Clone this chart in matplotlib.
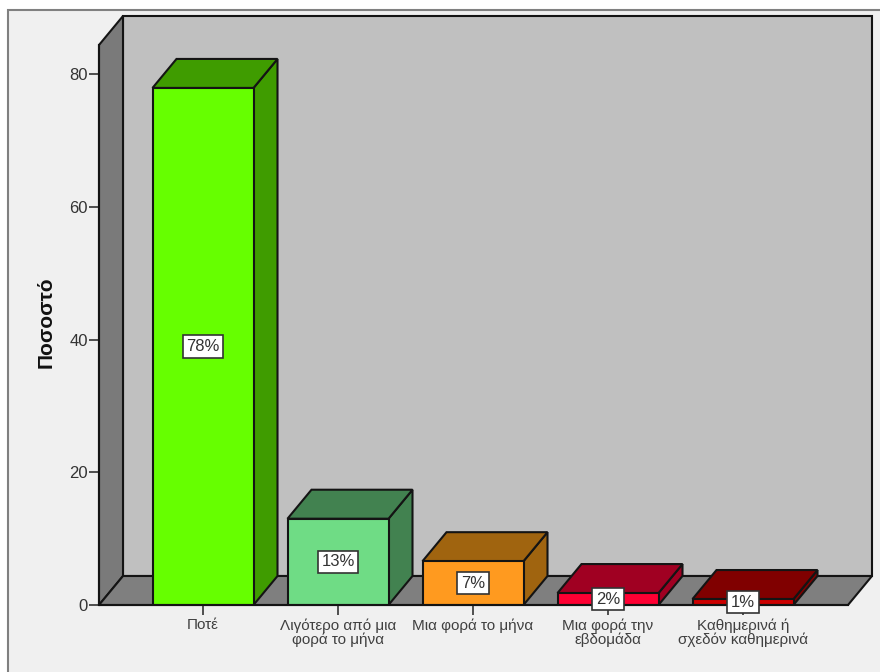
import matplotlib
matplotlib.use("Agg")
import matplotlib.pyplot as plt
from matplotlib.patches import Polygon, Rectangle

plt.rcParams['font.family'] = ['Liberation Sans', 'DejaVu Sans']

categories = ['Ποτέ', 'Λιγότερο από μια\nφορά το μήνα', 'Μια φορά το μήνα',
              'Μια φορά την\nεβδομάδα', 'Καθημερινά ή\nσχεδόν καθημερινά']
percent = [77.9, 13.0, 6.6, 1.8, 0.9]
yticks = [0, 20, 40, 60, 80]
front_colors = ['#66ff00', '#6fdc85', '#ff9a1f', '#ff0033', '#cc0000']
side_colors = ['#3f9c00', '#428250', '#a0640f', '#a00022', '#800000']

W, H = 880, 672
EDGE = '#141414'

fig = plt.figure(figsize=(W / 100, H / 100), dpi=100, facecolor='white')
# panel behind the chart, its frame runs off the picture on the right and bottom
fig.patches.append(Rectangle((8 / W, -0.01), 1, (H - 10) / H + 0.01, transform=fig.transFigure,
                             facecolor='#f0f0f0', edgecolor='#808080', linewidth=1.5, zorder=-1))

ax = fig.add_axes([99 / W, (H - 605) / H, 749 / W, 560 / H])
ax.set_xlim((99 - 203) / 135, (848 - 203) / 135)
ax.set_ylim(0, 560 / 6.6375)
ax.patch.set_visible(False)

# depth of the 3d box
dx = 24 / 135
dy = 29 / 6.6375
x0, x1 = ax.get_xlim()
y0, y1 = ax.get_ylim()


def poly(pts, color, z):
    ax.add_patch(Polygon(pts, closed=True, facecolor=color, edgecolor=EDGE,
                         linewidth=1.5, zorder=z, clip_on=False))


# back wall, left wall, floor
poly([(x0 + dx, y0 + dy), (x1 + dx, y0 + dy), (x1 + dx, y1 + dy), (x0 + dx, y1 + dy)], '#c0c0c0', 1)
poly([(x0, y0), (x0 + dx, y0 + dy), (x0 + dx, y1 + dy), (x0, y1)], '#7a7a7a', 1.1)
poly([(x0, y0), (x1, y0), (x1 + dx, y0 + dy), (x0 + dx, y0 + dy)], '#7f7f7f', 1.1)

width = 101 / 135
for i, v in enumerate(percent):
    l, r = i - width / 2, i + width / 2
    poly([(r, 0), (r + dx, dy), (r + dx, v + dy), (r, v)], side_colors[i], 2)
    poly([(l, v), (r, v), (r + dx, v + dy), (l + dx, v + dy)], side_colors[i], 2)
ax.bar(range(len(percent)), percent, width=width, color=front_colors, edgecolor=EDGE,
       linewidth=1.5, zorder=3)

for i, v in enumerate(percent):
    ax.text(i, v / 2, f'{v:.0f}%', ha='center', va='center', fontsize=12, color='#333333', zorder=6,
            bbox=dict(boxstyle='square,pad=0.22', facecolor='white', edgecolor='#333333', linewidth=1.2),
            clip_on=False)

for s in ['top', 'right']:
    ax.spines[s].set_visible(False)
for s in ['left', 'bottom']:
    ax.spines[s].set_color(EDGE)
    ax.spines[s].set_linewidth(1.5)
    ax.spines[s].set_zorder(5)

ax.set_xticks(range(len(categories)))
ax.set_xticklabels(categories, fontsize=11, color='#404040', linespacing=1.02)
ax.set_yticks(yticks)
ax.tick_params(axis='x', length=7, width=1.2, color='#333333', pad=2.5)
ax.tick_params(axis='y', length=7, width=1.2, color='#333333', pad=1, labelsize=12, labelcolor='#333333')
fig.text(46 / W, (H - 322) / H, 'Ποσοστό', rotation=90, ha='center', va='center',
         fontsize=15, fontweight='bold', color='#111111')

fig.savefig('out.png', dpi=100)
